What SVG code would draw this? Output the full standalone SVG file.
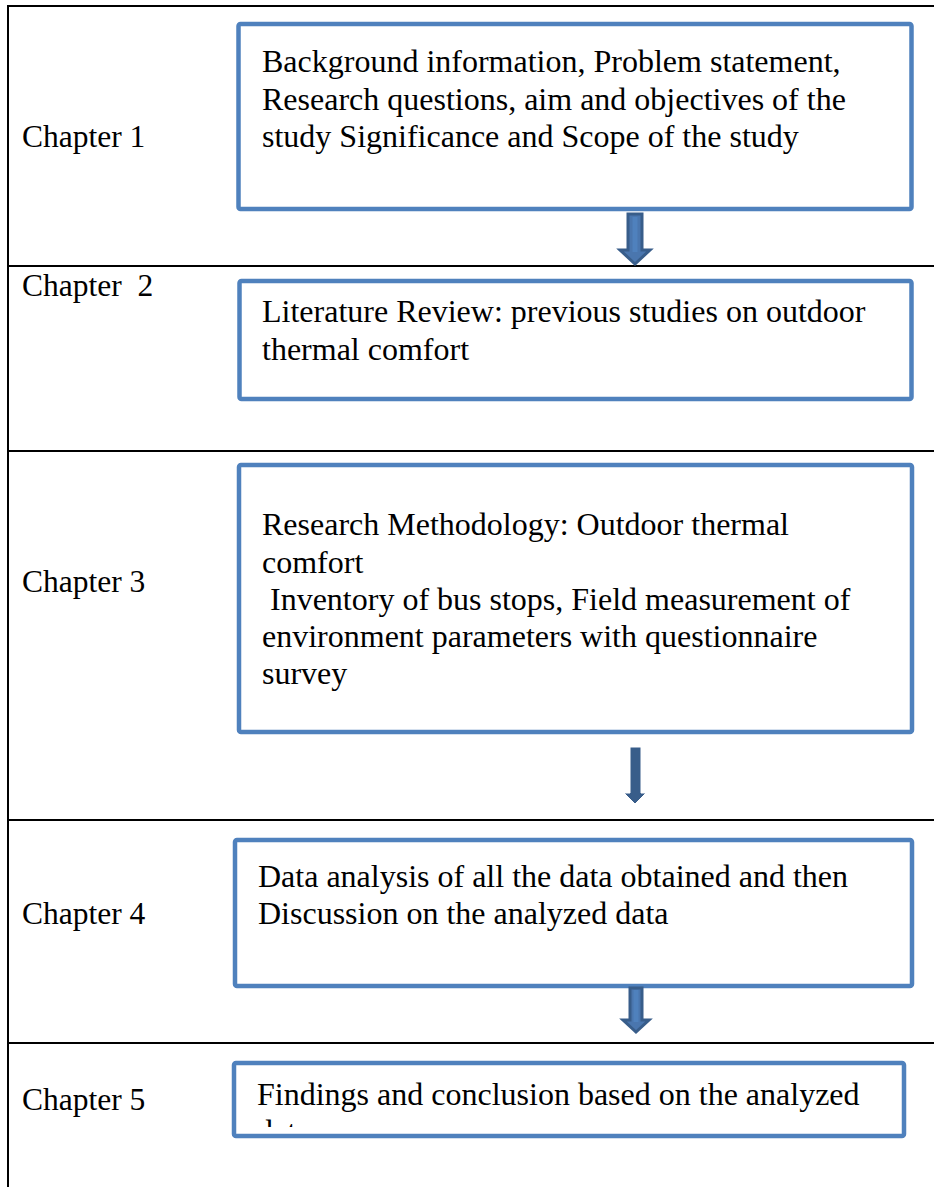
<svg xmlns="http://www.w3.org/2000/svg" width="934" height="1187" viewBox="0 0 934 1187">
<style>
.grid{stroke:#000;stroke-width:2;fill:none}
.box{fill:#fff;stroke:#4F81BD;stroke-width:4.5}
.t{font-family:"Liberation Serif","Times New Roman",serif;font-size:32px;fill:#000}
.c{font-family:"Liberation Serif","Times New Roman",serif;font-size:31.5px;fill:#000}
.arr{fill:#4A76AE;stroke:#385D8A;stroke-width:3;stroke-linejoin:miter}
.arr2{fill:#385D8A;stroke:#fff;stroke-width:1}
.stripe{stroke:#4F81BD;stroke-width:5}
</style>
<defs>
<clipPath id="clip5"><rect x="236" y="1065" width="666" height="62"/></clipPath>
</defs>
<g id="table">
<line class="grid" x1="8" y1="6" x2="934" y2="6"/>
<line class="grid" x1="8" y1="5" x2="8" y2="1187"/>
<line class="grid" x1="8" y1="266" x2="934" y2="266"/>
<line class="grid" x1="8" y1="451" x2="934" y2="451"/>
<line class="grid" x1="8" y1="820" x2="934" y2="820"/>
<line class="grid" x1="8" y1="1043" x2="934" y2="1043"/>
</g>
<g id="labels">
<text class="c" x="22" y="147">Chapter 1</text>
<text class="c" x="22" y="296" xml:space="preserve">Chapter  2</text>
<text class="c" x="22" y="592">Chapter 3</text>
<text class="c" x="22" y="924">Chapter 4</text>
<text class="c" x="22" y="1110">Chapter 5</text>
</g>
<g id="node1">
<rect class="box" x="238.5" y="24" width="673" height="185" rx="2"/>
<text class="t" x="262" y="72">Background information, Problem statement,</text>
<text class="t" x="262" y="110">Research questions, aim and objectives of the</text>
<text class="t" x="262" y="147">study Significance and Scope of the study</text>
</g>
<g id="node2">
<rect class="box" x="239.5" y="281" width="672" height="118" rx="2"/>
<text class="t" x="262" y="322">Literature Review: previous studies on outdoor</text>
<text class="t" x="262" y="360">thermal comfort</text>
</g>
<g id="node3">
<rect class="box" x="239" y="465" width="673" height="267" rx="2"/>
<text class="t" x="262" y="535">Research Methodology: Outdoor thermal</text>
<text class="t" x="262" y="573">comfort</text>
<text class="t" x="262" y="610" xml:space="preserve"> Inventory of bus stops, Field measurement of</text>
<text class="t" x="262" y="647">environment parameters with questionnaire</text>
<text class="t" x="262" y="684">survey</text>
</g>
<g id="node4">
<rect class="box" x="235" y="840" width="677" height="146" rx="2"/>
<text class="t" x="258" y="887">Data analysis of all the data obtained and then</text>
<text class="t" x="258" y="924">Discussion on the analyzed data</text>
</g>
<g id="node5">
<rect class="box" x="234" y="1063" width="670" height="73" rx="2"/>
<g clip-path="url(#clip5)">
<text class="t" x="257" y="1105">Findings and conclusion based on the analyzed</text>
<text class="t" x="257" y="1142">data</text>
</g>
</g>
<g id="connectors">
<polygon class="arr" points="628,214 642,214 642,250 650,250 635,264 620,250 628,250"/>
<line class="stripe" x1="635" y1="217" x2="635" y2="252"/>
<polygon class="arr2" points="630,747 641,747 641,793 646,793 635,804 624,793 630,793"/>
<polygon class="arr" points="630,988 642,988 642,1020 649,1020 636,1032 623,1020 630,1020"/>
<line class="stripe" x1="636" y1="990" x2="636" y2="1022"/>
</g>
</svg>
